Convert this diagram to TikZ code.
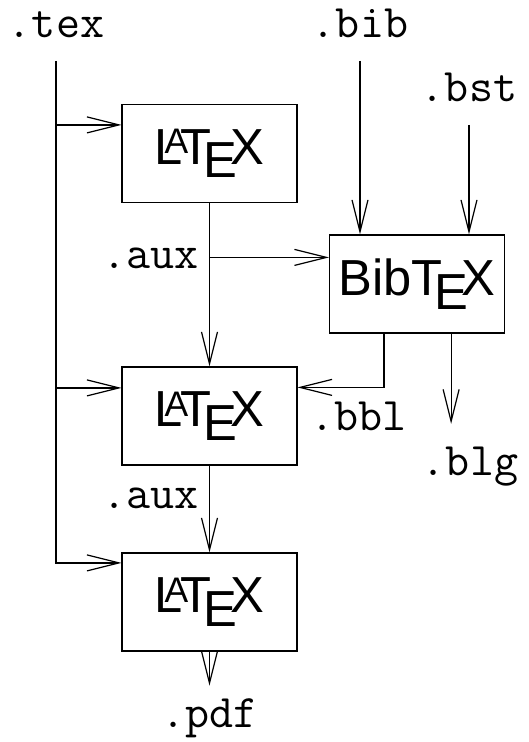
\documentclass[tikz,border=0pt]{standalone}
\usepackage{fontspec}
\newfontfamily\logofont{Liberation Sans}
\usetikzlibrary{arrows.meta,calc}

\begin{document}
\begin{tikzpicture}[x=0.75pt,y=0.75pt,yscale=-1,xscale=1,
	line width=0.9pt,
	>={Straight Barb[length=24pt,width=12pt,line width=0.9pt]},
	prog/.style={draw,line width=0.9pt,minimum width=131.25pt,minimum height=73.5pt,inner sep=0pt,font=\logofont\fontsize{38}{44}\selectfont},
	file/.style={inner sep=0pt,outer ysep=17pt,font=\ttfamily\fontsize{35}{40}\selectfont}]
			\useasboundingbox (0,0) rectangle (528,742);
			
			% Boxes
			\node (latexA) at (209.5,153.5) [prog] {\LaTeX};
			\node (latexB) at (209.5,416) [prog] {\LaTeX};
			\node (latexC) at (209.5,602) [prog] {\LaTeX};
			\node (bibtex) at (417,284) [prog] {Bib\TeX};
			
			% Text Node
			\node (tex) at (56,38) [file,anchor=base] {.tex};
			% Text Node
			\node (bib) at (360,38) [file,anchor=base] {.bib};
			% Text Node
			\node (bst) at (469,102) [file,anchor=base] {.bst};
			% Text Node
			\node (auxA) at (199,268) [file,anchor=base east] {.aux};
			% Text Node
			\node (auxB) at (199,508) [file,anchor=base east] {.aux};
			% Text Node
			\node (bbl) at (358.5,430) [file,anchor=base] {.bbl};
			% Text Node
			\node (blg) at (470,475) [file,anchor=base] {.blg};
			% Text Node
			\node (pdf) at (209.5,727) [file,anchor=base,outer ysep=9.5pt] {.pdf};
			
			% Ports
			\coordinate (inA) at ($(latexA.north west)+(0,21)$);
			\coordinate (inB) at ($(latexB.north west)+(0,21.5)$);
			\coordinate (inC) at ($(latexC.north west)+(0,10.5)$);
			\coordinate (inBib) at ($(bibtex.north west)+(0,23)$);
			\coordinate (inBbl) at ($(latexB.north east)+(0,21)$);
			\coordinate (outBbl) at ($(bibtex.south west)+(55,0)$);
			\coordinate (outBlg) at ($(bibtex.south east)+(-54,0)$);
			
			%Straight Lines
			\draw [->] (tex.south) -- (tex.south |- inC) -- (inC);
			\draw [->] (tex.south |- inA) -- (inA);
			\draw [->] (tex.south |- inB) -- (inB);
			%Straight Lines
			\draw [->] (latexA) -- (latexB);
			\draw [->] (latexA.south |- inBib) -- (inBib);
			\draw [->] (latexB) -- (latexC);
			\draw [->] (latexC.south) -- (latexC.south |- pdf.north);
			%Straight Lines
			\draw [->] (bib.south) -- (bib.south |- bibtex.north);
			\draw [->] (bst.south) -- (bst.south |- bibtex.north);
			\draw [->] (outBbl) |- (inBbl);
			\draw [->] (outBlg) -- (outBlg |- blg.north);
			
		\end{tikzpicture}
\end{document}
